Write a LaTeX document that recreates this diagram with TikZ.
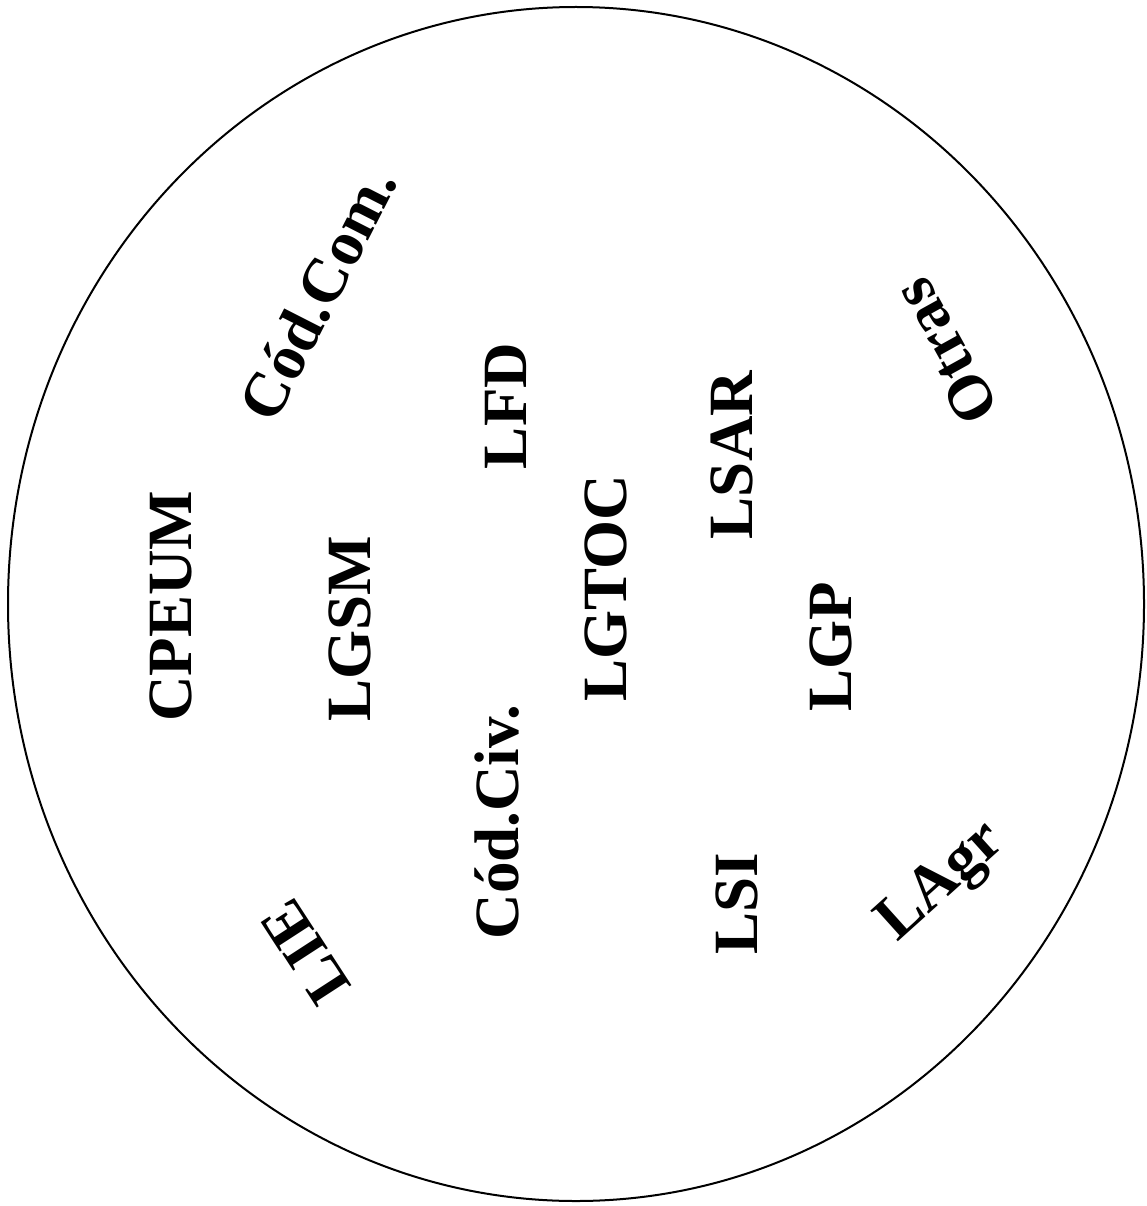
\documentclass[tikz,border=0pt]{standalone}
\usepackage{fontspec}
\setmainfont{Liberation Serif}
\begin{document}
\begin{tikzpicture}[x=1pt,y=-1pt,
  lab/.style={font=\bfseries\fontsize{63}{63}\selectfont, inner sep=0pt, text height=42pt, text depth=0pt, anchor=center}]
\useasboundingbox (0,0) rectangle (1146,1206);
\draw[line width=2pt] (576,604) ellipse [x radius=568, y radius=597];
\node[lab, rotate=63]  (codcom) at (318,294) {Cód.Com.};
\node[lab, rotate=90]  (cpeum)  at (170,606) {CPEUM};
\node[lab, rotate=90]  (lgsm)   at (349,629) {LGSM};
\node[lab, rotate=90]  (lfd)    at (505,406) {LFD};
\node[lab, rotate=90]  (lgtoc)  at (605,588) {LGTOC};
\node[lab, rotate=90]  (lsar)   at (731,455) {LSAR};
\node[lab, rotate=90]  (lgp)    at (830,647) {LGP};
\node[lab, rotate=119] (otras)  at (945,352) {Otras};
\node[lab, rotate=90]  (codciv) at (497,822) {Cód.Civ.};
\node[lab, rotate=90]  (lsi)    at (736,904) {LSI};
\node[lab, rotate=42]  (lagr)   at (938,878) {LAgr};
\node[lab, rotate=123] (lie)    at (305,952) {LIE};
\end{tikzpicture}
\end{document}
